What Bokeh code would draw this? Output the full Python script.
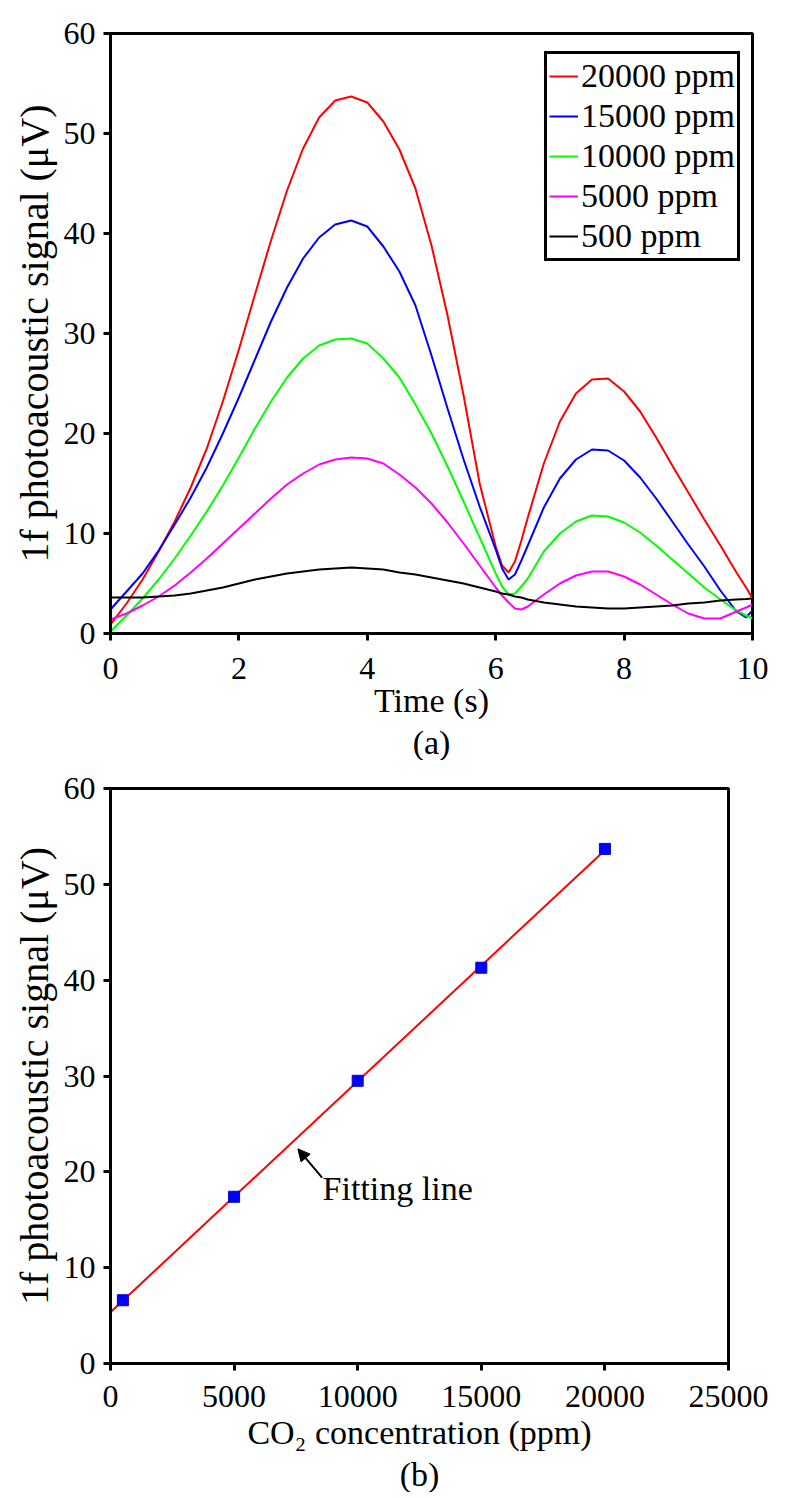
from bokeh.plotting import figure
from bokeh.models import Range1d, FixedTicker, Legend, LegendItem, Title, Label, Arrow, NormalHead
from bokeh.layouts import column
from bokeh.embed import file_html
from bokeh.resources import INLINE
import numpy as np

# ---------------- data (a) ----------------
time_s = [0, 0.25, 0.5, 0.75, 1.0, 1.25, 1.5, 1.75, 2.0, 2.25, 2.5, 2.75, 3.0, 3.25, 3.5,
          3.75, 4.0, 4.25, 4.5, 4.75, 5.0, 5.25, 5.5, 5.75, 6.0, 6.1, 6.2, 6.3, 6.4, 6.5,
          6.75, 7.0, 7.25, 7.5, 7.75, 8.0, 8.25, 8.5, 8.75, 9.0, 9.25, 9.5, 9.75, 9.9, 10.0]

sig_20000 = [0.9, 3.0, 5.4, 8.2, 11.2, 14.6, 18.5, 23.2, 28.4, 33.9, 39.3, 44.3, 48.5, 51.6, 53.3,
             53.7, 53.1, 51.2, 48.4, 44.5, 38.8, 31.8, 23.8, 15.0, 8.7, 6.8, 6.1, 7.2, 9.3, 11.6,
             17.0, 21.2, 24.0, 25.4, 25.5, 24.2, 22.2, 19.6, 16.8, 14.1, 11.4, 8.8, 6.1, 4.6, 3.5]
sig_15000 = [2.4, 4.2, 6.0, 8.3, 10.9, 13.6, 16.6, 20.0, 23.6, 27.4, 31.2, 34.6, 37.5, 39.6, 40.9,
             41.3, 40.7, 38.7, 36.2, 32.8, 27.8, 22.5, 17.4, 12.7, 8.4, 6.5, 5.4, 5.9, 7.3, 8.8,
             12.6, 15.5, 17.4, 18.4, 18.3, 17.3, 15.6, 13.5, 11.2, 8.9, 6.7, 4.3, 2.2, 1.6, 2.3]
sig_10000 = [0.2, 1.8, 3.5, 5.4, 7.5, 9.8, 12.2, 14.8, 17.6, 20.5, 23.2, 25.6, 27.5, 28.8, 29.4,
             29.5, 29.0, 27.5, 25.6, 22.9, 20.0, 16.7, 13.2, 9.6, 6.0, 4.7, 3.9, 4.0, 4.7, 5.5,
             8.2, 10.0, 11.2, 11.8, 11.7, 11.1, 10.1, 8.8, 7.4, 6.0, 4.6, 3.4, 2.3, 1.8, 1.5]
sig_5000 = [1.4, 2.0, 2.8, 3.7, 4.8, 6.1, 7.5, 9.0, 10.5, 12.0, 13.5, 14.9, 16.0, 16.9, 17.4,
            17.6, 17.5, 17.0, 15.9, 14.6, 13.0, 11.1, 9.0, 6.8, 4.6, 3.8, 3.1, 2.5, 2.4, 2.7,
            3.9, 5.0, 5.8, 6.2, 6.2, 5.7, 4.9, 3.9, 2.9, 2.0, 1.5, 1.5, 2.2, 2.6, 2.9]
sig_500 = [3.6, 3.6, 3.6, 3.7, 3.8, 4.0, 4.3, 4.6, 5.0, 5.4, 5.7, 6.0, 6.2, 6.4, 6.5,
           6.6, 6.5, 6.4, 6.1, 5.9, 5.6, 5.3, 5.0, 4.6, 4.2, 4.0, 3.9, 3.7, 3.6, 3.4,
           3.1, 2.9, 2.7, 2.6, 2.5, 2.5, 2.6, 2.7, 2.8, 3.0, 3.1, 3.3, 3.4, 3.45, 3.5]

series_labels = ["20000 ppm", "15000 ppm", "10000 ppm", "5000 ppm", "500 ppm"]
series_colors = ["#ff0000", "#0000ff", "#00ff00", "#ff00ff", "#000000"]

# ---------------- data (b) ----------------
conc_ppm = [500, 5000, 10000, 15000, 20000]
peak_uv = [6.6, 17.4, 29.5, 41.3, 53.7]
fit_range = [0, 20000]

FONT = "Liberation Serif"


def style(p, xticks, yticks, xlabel, ylabel, x_standoff, xlabel_standoff):
    p.xaxis.ticker = FixedTicker(ticks=xticks)
    p.yaxis.ticker = FixedTicker(ticks=yticks)
    p.xaxis.axis_label = xlabel
    p.yaxis.axis_label = ylabel
    for ax in (p.xaxis[0], p.yaxis[0]):
        ax.axis_line_width = 3
        ax.axis_line_color = "black"
        ax.major_tick_line_width = 3
        ax.major_tick_line_color = "black"
        ax.major_tick_out = 7
        ax.major_tick_in = 0
        ax.minor_tick_line_color = None
        ax.major_label_text_font = FONT
        ax.major_label_text_font_size = "32px"
        ax.major_label_text_color = "black"
        ax.axis_label_text_font = FONT
        ax.axis_label_text_font_style = "normal"
        ax.axis_label_text_color = "black"
    p.xaxis.major_label_standoff = x_standoff
    p.xaxis.axis_label_standoff = xlabel_standoff
    p.yaxis.major_label_standoff = 8
    p.xaxis.axis_label_text_font_size = "34px"
    p.yaxis.axis_label_text_font_size = "40px"
    p.yaxis.axis_label_standoff = 4
    p.xgrid.visible = False
    p.ygrid.visible = False
    p.outline_line_color = "black"
    p.outline_line_width = 3
    p.outline_line_alpha = 1
    p.background_fill_color = "white"
    p.border_fill_color = "white"


# ---------------- figure (a) ----------------
p1 = figure(frame_width=642, frame_height=600, x_range=Range1d(0, 10), y_range=Range1d(0, 60),
            output_backend="svg", toolbar_location=None,
            min_border_left=110, min_border_right=36, min_border_top=33, min_border_bottom=0)
style(p1, [0, 2, 4, 6, 8, 10], [0, 10, 20, 30, 40, 50, 60], "Time (s)",
      "1f photoacoustic signal (μV)", 17, 0)

renderers = []
for ys, col in zip([sig_20000, sig_15000, sig_10000, sig_5000, sig_500], series_colors):
    renderers.append(p1.line(time_s, ys, line_color=col, line_width=2))

legend = Legend(items=[LegendItem(label=l, renderers=[r]) for l, r in zip(series_labels, renderers)],
                location=(434, 372), margin=0, padding=2, spacing=0,
                glyph_width=29, glyph_height=20, label_height=40, label_standoff=3,
                label_text_font=FONT, label_text_font_size="34px", label_text_color="black",
                border_line_color="black", border_line_width=3, border_line_alpha=1,
                background_fill_color="white", background_fill_alpha=1)
p1.add_layout(legend)
p1.add_layout(Title(text="(a)", align="center", text_font=FONT, text_font_size="34px",
                    text_font_style="normal", text_color="black", standoff=0), "below")

# ---------------- figure (b) ----------------
p2 = figure(frame_width=618, frame_height=575, x_range=Range1d(0, 25000), y_range=Range1d(0, 60),
            output_backend="svg", toolbar_location=None,
            min_border_left=110, min_border_right=50, min_border_top=28, min_border_bottom=0)
style(p2, [0, 5000, 10000, 15000, 20000, 25000], [0, 10, 20, 30, 40, 50, 60],
      "CO₂ concentration (ppm)", "1f photoacoustic signal (μV)", 15, 4)

slope, intercept = np.polyfit(conc_ppm, peak_uv, 1)
fit_y = [slope * x + intercept for x in fit_range]
p2.line(fit_range, fit_y, line_color="#ff0000", line_width=2)
p2.scatter(conc_ppm, peak_uv, marker="square", size=11, fill_color="#0000ff", line_color="#0000cc")

p2.add_layout(Arrow(end=NormalHead(size=12, fill_color="black", line_color="black"),
                    x_start=8560, y_start=19.4, x_end=7580, y_end=22.4,
                    line_color="black", line_width=2))
p2.add_layout(Label(x=8580, y=18.3, text="Fitting line", text_font=FONT, text_font_size="34px",
                    text_color="black", text_baseline="alphabetic"))
p2.add_layout(Title(text="(b)", align="center", text_font=FONT, text_font_size="34px",
                    text_font_style="normal", text_color="black", standoff=0), "below")

layout = column(p1, p2, spacing=0)
open("out.html", "w").write(file_html(layout, INLINE))
